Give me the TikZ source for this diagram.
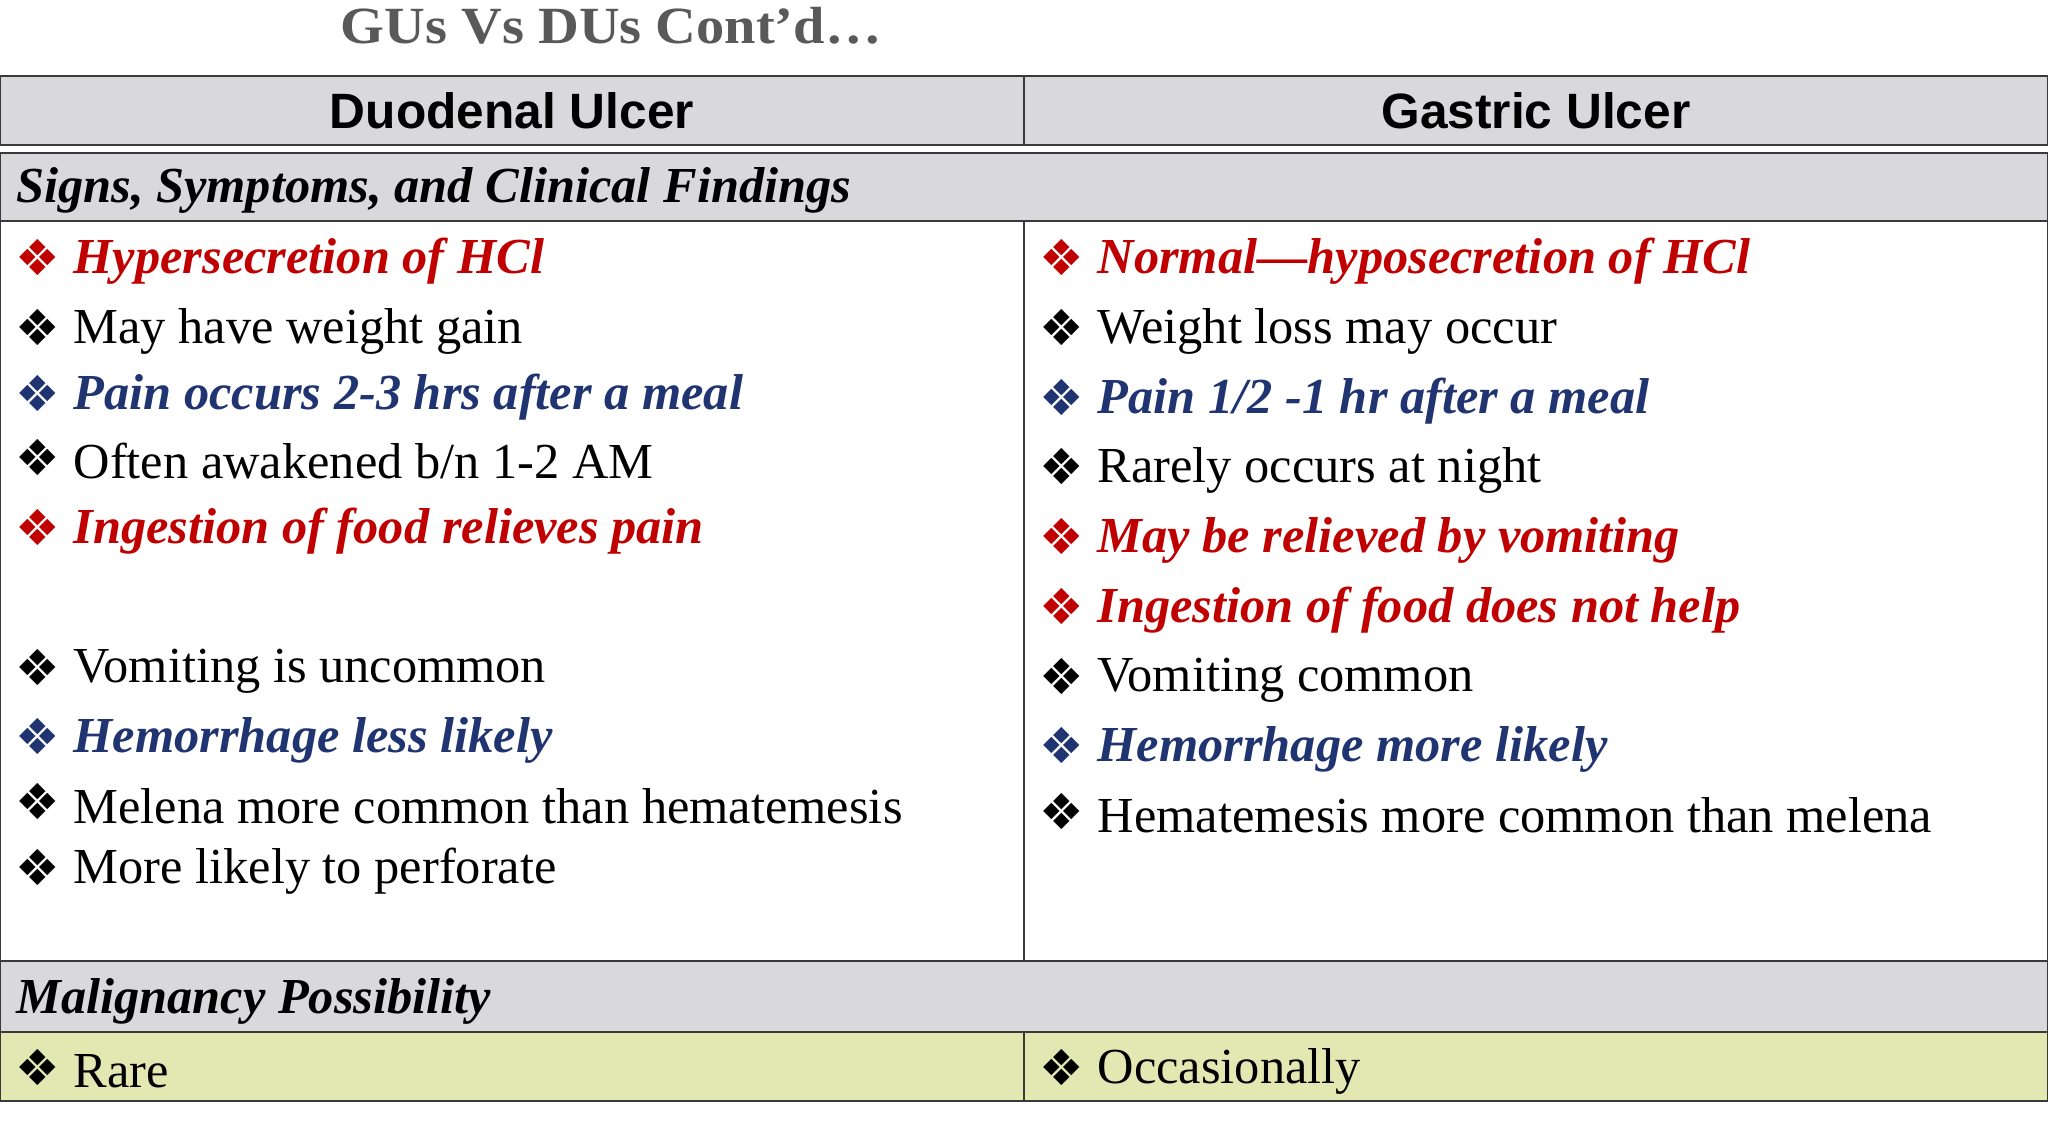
\documentclass[tikz,border=0pt]{standalone}
\usepackage{fontspec}
\setmainfont{Liberation Serif}
\newfontfamily\hdr{Liberation Sans}
\newfontfamily\sym{DejaVu Sans}
\newfontfamily\wide{Liberation Serif}[FakeStretch=1.08]
\definecolor{rd}{HTML}{C00000}
\definecolor{bl}{HTML}{1F3470}
\definecolor{gr}{HTML}{D9D9DB}
\definecolor{yl}{HTML}{E3E8B2}
\definecolor{tt}{HTML}{595959}
\definecolor{ln}{HTML}{3A3A3A}
\newcommand{\bul}{{\sym\fontsize{19}{19}\selectfont ❖}}
\begin{document}
\begin{tikzpicture}[x=0.5pt,y=-0.5pt,
  itm/.style={anchor=west,inner sep=0pt,font=\fontsize{19.3}{21}\selectfont},
  emr/.style={itm,text=rd,font=\fontsize{19.3}{21}\selectfont\bfseries\itshape},
  emb/.style={itm,text=bl,font=\fontsize{19.3}{21}\selectfont\bfseries\itshape},
  bt/.style={anchor=center,inner sep=0pt},
  cell/.style={draw=ln,line width=0.8pt}]
\useasboundingbox (0,0) rectangle (1568,871);
\fill[white] (0,0) rectangle (1568,871);
\node[font=\wide\fontsize{20}{22}\selectfont\bfseries,text=tt] (title) at (468,20) {GUs Vs DUs Cont’d…};
\draw[cell,fill=gr] (0,58) rectangle (784,111);
\draw[cell,fill=gr] (784,58) rectangle (1568,111);
\node[font=\hdr\fontsize{19}{20}\selectfont\bfseries] (h1) at (392,85) {Duodenal Ulcer};
\node[font=\hdr\fontsize{19}{20}\selectfont\bfseries] (h2) at (1176,85) {Gastric Ulcer};
\draw[cell,fill=gr] (0,117) rectangle (1568,169);
\node[itm,font=\fontsize{19.3}{21}\selectfont\bfseries\itshape] (s1) at (12,146) {Signs, Symptoms, and Clinical Findings};
\draw[cell] (0,169) rectangle (784,736);
\draw[cell] (784,169) rectangle (1568,736);
\draw[cell,fill=gr] (0,736) rectangle (1568,790);
\node[itm,font=\fontsize{19.3}{21}\selectfont\bfseries\itshape] (s2) at (12,767) {Malignancy Possibility};
\draw[cell,fill=yl] (0,790) rectangle (784,843);
\draw[cell,fill=yl] (784,790) rectangle (1568,843);
% left
\foreach \y/\s/\c/\t in {197/emr/rd/{Hypersecretion of HCl},251/itm/black/{May have weight gain},301/emb/bl/{Pain occurs 2-3 hrs after a meal},350/itm/black/{Often awakened b/n 1-2 AM},404/emr/rd/{Ingestion of food relieves pain},511/itm/black/{Vomiting is uncommon},564/emb/bl/{Hemorrhage less likely},614/itm/black/{Melena more common than hematemesis},664/itm/black/{More likely to perforate},817/itm/black/{Rare}}{
  \node[bt,text=\c] (lb\y) at (29,\y) {\bul};
  \node[\s] (lt\y) at (56,\y+3) {\t};
}
\foreach \y/\s/\c/\t in {197/emr/rd/{Normal—hyposecretion of HCl},251/itm/black/{Weight loss may occur},304/emb/bl/{Pain 1/2 -1 hr after a meal},357/itm/black/{Rarely occurs at night},411/emr/rd/{May be relieved by vomiting},464/emr/rd/{Ingestion of food does not help},518/itm/black/{Vomiting common},571/emb/bl/{Hemorrhage more likely},621/itm/black/{Hematemesis more common than melena},817/itm/black/{Occasionally}}{
  \node[bt,text=\c] (rb\y) at (813,\y) {\bul};
  \node[\s] (rt\y) at (840,\y+3) {\t};
}
\end{tikzpicture}
\end{document}
